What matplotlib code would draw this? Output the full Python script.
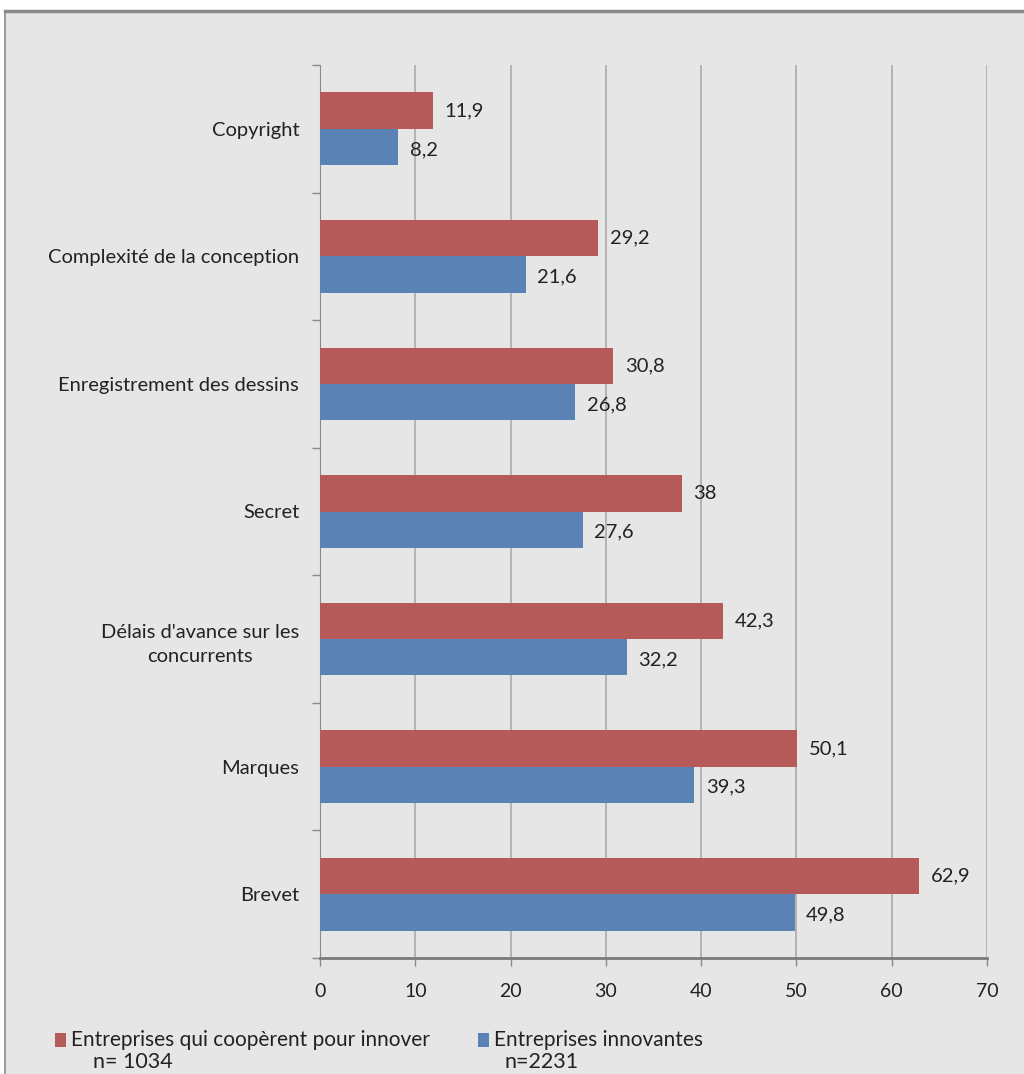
import matplotlib
matplotlib.use("Agg")
import matplotlib.pyplot as plt
from matplotlib.patches import Rectangle
import numpy as np

categories = ["Brevet", "Marques", "Délais d'avance sur les\nconcurrents", "Secret",
              "Enregistrement des dessins", "Complexité de la conception", "Copyright"]
coop = [62.9, 50.1, 42.3, 38, 30.8, 29.2, 11.9]
innov = [49.8, 39.3, 32.2, 27.6, 26.8, 21.6, 8.2]
coop_labels = ["62,9", "50,1", "42,3", "38", "30,8", "29,2", "11,9"]
innov_labels = ["49,8", "39,3", "32,2", "27,6", "26,8", "21,6", "8,2"]
xticks = [0, 10, 20, 30, 40, 50, 60, 70]
legend_names = ["Entreprises qui coopèrent pour innover", "Entreprises innovantes"]
legend_n = ["n= 1034", "n=2231"]

RED = "#b55a58"
BLUE = "#5b82b5"
BG = "#e6e6e6"
TXT = "#222222"

plt.rcParams['font.family'] = ['Lato', 'DejaVu Sans']

W, H = 1024, 1074
fig = plt.figure(figsize=(W/100, H/100), dpi=100, facecolor="white")
fig.patches.append(Rectangle((5/W, 0), 1 - 5/W, 1 - 11/H, transform=fig.transFigure,
                             facecolor=BG, edgecolor="none", zorder=-10))
fig.lines.append(plt.Line2D([5/W, 1], [1 - 11/H, 1 - 11/H], transform=fig.transFigure,
                            color="#8a8a8a", lw=2.5))
fig.lines.append(plt.Line2D([5/W, 5/W], [0, 1 - 11/H], transform=fig.transFigure,
                            color="#8a8a8a", lw=1.2))

left, right = 320, 987
top, bottom = 65, 958
ax = fig.add_axes([left/W, 1 - bottom/H, (right-left)/W, (bottom-top)/H])
ax.set_facecolor("none")

y = np.arange(len(categories))
h = 0.285
ax.barh(y + h/2, coop, height=h, color=RED, zorder=3)
ax.barh(y - h/2, innov, height=h, color=BLUE, zorder=3)
for i in range(len(categories)):
    ax.text(coop[i] + 1.2, y[i] + h/2, coop_labels[i], va='center', ha='left', fontsize=14.5, color=TXT)
    ax.text(innov[i] + 1.2, y[i] - h/2 - 0.02, innov_labels[i], va='center', ha='left', fontsize=14.5, color=TXT)

ax.set_xlim(0, 70)
ax.set_ylim(-0.5, len(categories) - 0.5)
ax.set_xticks(xticks)
ax.set_xticklabels([str(t) for t in xticks], fontsize=14, color=TXT)
ax.set_yticks(np.arange(-0.5, len(categories), 1.0))
ax.set_yticklabels([])
ax.set_yticks(y, minor=True)
ax.set_yticklabels(categories, minor=True, fontsize=14.5, color=TXT, ha='right',
                   multialignment='center', linespacing=1.5)
ax.tick_params(axis='y', which='minor', length=0, pad=15)
ax.tick_params(axis='y', which='major', length=6, color="#8a8a8a", width=1)
ax.tick_params(axis='x', length=6, color="#8a8a8a", width=1, pad=12)
ax.xaxis.grid(True, color="#ababab", lw=1.2, zorder=0)
ax.set_axisbelow(True)
for s in ['top', 'right']:
    ax.spines[s].set_visible(False)
ax.spines['left'].set_color("#8a8a8a")
ax.spines['bottom'].set_color("#7a7a7a")
ax.spines['bottom'].set_linewidth(2)

# legend
for (xpx, col, name, n, nx) in [(55, RED, legend_names[0], legend_n[0], 93),
                                 (478, BLUE, legend_names[1], legend_n[1], 505)]:
    fig.patches.append(Rectangle((xpx/W, 1 - 1047/H), 11/W, 14/H, transform=fig.transFigure,
                                 facecolor=col, edgecolor="none"))
    fig.text((xpx + 16)/W, 1 - 1040/H, name, fontsize=15, color=TXT, va='center', ha='left')
    fig.text(nx/W, 1 - 1062/H, n, fontsize=15.5, color=TXT, va='center', ha='left')

fig.savefig("out.png", dpi=100, facecolor="white")
